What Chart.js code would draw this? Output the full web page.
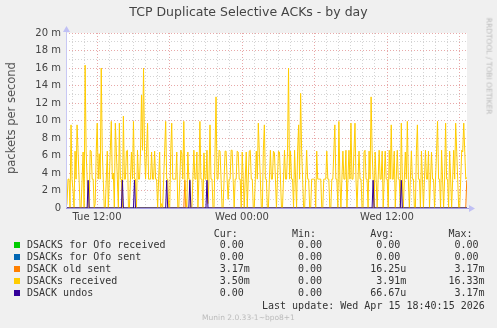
<!DOCTYPE html>
<html>
<head>
<meta charset="utf-8">
<script src="https://cdn.jsdelivr.net/npm/chart.js@4/dist/chart.umd.min.js"></script>
<style>
body{margin:0;background:#f0f0f0;}
#wrap{position:relative;width:497px;height:328px;overflow:hidden;background:#f0f0f0;}
#grafica{position:absolute;left:0;top:0;}
.txt{position:absolute;white-space:pre;font-family:"DejaVu Sans",sans-serif;}
.mono{position:absolute;white-space:pre;font-family:"DejaVu Sans Mono",monospace;font-size:10px;line-height:12px;color:#333;}
.sq{position:absolute;width:6px;height:6px;}
</style>
</head>
<body>
<div id="wrap">
<canvas id="grafica" width="497" height="328"></canvas>
<div class="txt" style="left:0;width:497px;text-align:center;top:4px;font-size:12.5px;color:#444;">TCP Duplicate Selective ACKs - by day</div>
<div class="txt" style="left:11px;top:118px;font-size:11.5px;color:#555;transform:translate(-50%,-50%) rotate(-90deg);">packets per second</div>
<div class="txt" style="left:489px;top:66px;font-size:7.5px;color:#bbb;transform:translate(-50%,-50%) rotate(90deg);">RRDTOOL / TOBI OETIKER</div>
<div id="leyenda"></div>
<div class="txt" style="left:0;width:497px;text-align:center;top:313px;font-size:7.5px;color:#bbb;">Munin 2.0.33-1~bpo8+1</div>
</div>
<script>
// one sample every 5 min starting Tue 09:21 (hours since Tue 00:00)
const startHour=9+21/60;
const stepHours=1/12;
const minHour=9+26/60;
const endHour=42.62;

const dsacksRecv=[
0,0,0.5,3.3,3.3,0,9.5,3.3,2,0,6.5,3.3,9.5,6.4,3.3,0,0,3.3,6.4,0,
16.33,6.5,3.3,0,0,6.6,6.5,3.3,3.3,0,0.5,6.4,9.7,3.3,6.2,3.3,16,6.6,3.3,0,
0,3.3,6.5,0,3.3,6.6,9.9,3.3,4,0,9.7,6.5,3.3,0,9.7,3.3,3.3,0,10.5,3.3,
3.3,6.5,6.6,0,0,3.3,6.4,3.3,9.9,3.3,3.3,0,6.6,3.3,3.3,6.4,12.9,6.6,16,6.5,
3.3,6.6,9.7,3.3,3.3,3.3,6.4,3.3,3.3,6.5,3.3,3.3,0,3.3,6.4,0,0.5,0,3.3,6.6,
9.9,3.3,3.3,0,0,6.5,9.7,3.3,3.3,3.3,3.3,6.4,0,0,3.3,6.6,6.2,3.3,9.9,3.3,
1,0,6.4,3.3,3.3,0,0,3.3,6.6,3.3,3.3,6.4,0,3.3,9.9,3.3,3.3,0,6.3,3.3,
3.3,6.6,0.5,3.3,9.5,3.3,3.3,0,0,6.4,12.7,3.3,3.3,6.6,6.5,3.3,0,0,3.3,6.5,
6.5,3.3,1,3.3,3.3,6.6,6.6,3.3,0,3.3,3.3,6.5,6.4,3.3,3.3,0,6.4,3.3,0,3.3,
6.4,0,3.3,6.5,6.6,3.3,3.3,0,0,3.3,6.5,3.3,9.7,6.4,3.3,0,0,6.6,9.5,3.3,
3.3,0,0,3.3,6.6,3.3,3.3,6.5,6.3,3.3,0,3.3,6.5,6.4,3.3,0,0,3.3,6.6,3.3,
3.3,6.5,16,3.3,6.5,3.3,3.3,0,6.6,3.3,0,6.5,9.5,3.3,13.1,6.6,3.3,0,0,3.3,
6.6,3.3,3.3,0,0,3.3,3.3,3.3,3.3,0,6.5,3.3,3.3,3.3,3.3,0,0,3.3,3.3,3.3,
6.5,3.3,3.3,0,0,3.3,3.3,6.4,9.5,3.3,3.3,0,9.9,3.3,0,3.3,6.5,3.3,3.3,6.6,
0,3.3,6.6,3.3,9.7,3.3,3.3,6.5,9.7,3.3,0,3.3,6.5,3.3,3.3,0,0,6.4,6.6,3.3,
3.3,0,6.5,3.3,12.7,6.6,3.3,0,6.4,3.3,0,3.3,6.6,3.3,3.3,6.5,0,3.3,6.5,3.3,
3.3,0,6.6,3.3,9.5,3.3,3.3,6.5,0,3.3,6.6,3.3,3.3,0,9.7,3.3,0,3.3,6.4,3.3,
9.9,3.3,0,3.3,6.5,3.3,3.3,0,0,6.6,9.5,3.3,3.3,0,6.5,3.3,0,3.3,6.6,3.3,
3.3,6.5,0,3.3,6.4,3.3,3.3,0,3.3,6.5,9.9,3.3,3.3,0,6.6,3.3,0,3.3,9.7,3.3,
3.3,0,6.5,3.3,0,3.3,6.6,3.3,9.7,6.5,3.3,0,0,3.3,6.6,6.4,9.7,6.5,3.3,3.5
];

const dsackUndos=[
0,0,0,0,0,0,0,0,0,0,0,0,0,0,0,0,0,0,0,0,
0,0,0,3.17,0,0,0,0,0,0,0,0,0,0,0,0,0,0,0,0,
0,0,0,0,0,0,0,0,0,0,0,0,0,0,0,0,0,3.17,0,0,
0,0,0,0,0,0,0,0,0,3.17,0,0,0,0,0,0,0,0,0,0,
0,0,0,0,0,0,0,0,0,0,0,0,0,0,0,0,0,0,0,0,
0,3.17,0,0,0,0,0,0,0,0,0,0,0,0,0,0,0,0,0,0,
0,0,0,0,3.17,0,0,0,0,0,0,0,0,0,0,0,0,0,0,0,
0,3.17,0,0,0,0,0,0,0,0,0,0,0,0,0,0,0,0,0,0,
0,0,0,0,0,0,0,0,0,0,0,0,0,0,0,0,0,0,0,0,
0,0,0,0,0,0,0,0,0,0,0,0,0,0,0,0,0,0,0,0,
0,0,0,0,0,0,0,0,0,0,0,0,0,0,0,0,0,0,0,0,
0,0,0,0,0,0,0,0,0,0,0,0,0,0,0,0,0,0,0,0,
0,0,0,0,0,0,0,0,0,0,0,0,0,0,0,0,0,0,0,0,
0,0,0,0,0,0,0,0,0,0,0,0,0,0,0,0,0,0,0,0,
0,0,0,0,0,0,0,0,0,0,0,0,0,0,0,0,0,0,0,0,
0,0,0,0,0,0,3.17,0,0,0,0,0,0,0,0,0,0,0,0,0,
0,0,0,0,0,0,0,0,0,0,0,0,0,0,3.17,0,0,0,0,0,
0,0,0,0,0,0,0,0,0,0,0,0,0,0,0,0,0,0,0,0,
0,0,0,0,0,0,0,0,0,0,0,0,0,0,0,0,0,0,0,0,
0,0,0,0,0,0,0,0,0,0,0,0,0,0,0,0,0,0,0,0
];

const dsackOldSent=[
0,0,0,0,0,0,0,0,0,0,0,0,0,0,0,0,0,0,0,0,
0,0,0,0,0,0,0,0,0,0,0,0,0,0,0,0,0,0,0,0,
0,0,0,0,0,0,0,0,0,0,0,0,0,0,0,0,0,0,0,0,
0,0,0,0,0,0,0,0,0,0,0,0,0,0,0,0,0,0,0,0,
0,0,0,0,0,0,0,0,0,0,0,0,0,0,0,0,0,0,0,0,
0,0,0,0,0,0,0,0,0,0,0,0,0,0,0,0,0,0,0,3.17,
0,0,0,0,0,0,0,0,0,0,0,0,0,0,0,0,0,0,0,0,
0,0,0,0,0,0,0,0,0,0,0,0,0,0,0,0,0,0,0,0,
0,0,0,0,0,0,0,0,0,0,0,0,0,0,0,0,0,0,0,0,
0,0,0,0,0,0,0,0,0,0,0,0,0,0,0,0,0,0,0,0,
0,0,0,0,0,0,0,0,0,0,0,0,0,0,0,0,0,0,0,0,
0,0,0,0,0,0,0,0,0,0,0,0,0,0,0,0,0,0,0,0,
0,0,0,0,0,0,0,0,0,0,0,0,0,0,0,0,0,0,0,0,
0,0,0,0,0,0,0,0,0,0,0,0,0,0,0,0,0,0,0,0,
0,0,0,0,0,0,0,0,0,0,0,0,0,0,0,0,0,0,0,0,
0,0,0,0,0,0,0,0,0,0,0,0,0,0,0,0,0,0,0,0,
0,0,0,0,0,0,0,0,0,0,0,0,0,0,0,0,0,0,0,0,
0,0,0,0,0,0,0,0,0,0,0,0,0,0,0,0,0,0,0,0,
0,0,0,0,0,0,0,0,0,0,0,0,0,0,0,0,0,0,0,0,
0,0,0,0,0,0,0,0,0,0,0,0,0,0,0,0,0,0,0,3.17
];

// flat at zero the whole day
const ofoReceived=[0,0];
const ofoSent=[0,0];

const xTicks=[10,11,12,13,14,15,16,17,18,19,20,21,22,23,24,25,26,27,28,29,30,31,32,33,34,35,36,37,38,39,40,41,42];
const xLabels={12:"Tue 12:00",24:"Wed 00:00",36:"Wed 12:00"};

const nombres=["DSACKS for Ofo received","DSACKs for Ofo sent","DSACK old sent","DSACKs received","DSACK undos"];
const colores=["#00cc00","#0066b3","#ff8000","#ffcc00","#330099"];
const cur=["0.00","0.00","3.17m","3.50m","0.00"];
const min=["0.00","0.00","0.00","0.00","0.00"];
const avg=["0.00","0.00","16.25u","3.91m","66.67u"];
const max=["0.00","0.00","3.17m","16.33m","3.17m"];

function serie(vals){
    return vals.map((v,i)=>({x:startHour+i*stepHours,y:v}));
}
function plana(vals){
    return [{x:minHour,y:vals[0]},{x:endHour,y:vals[1]}];
}

// LEYENDA
function celda(linea,txt,fin){
    // number ends at column fin, unit letter goes after it
    let num=txt.replace(/[a-z]$/,"");
    let ini=fin-num.length+1;
    while(linea.length<ini) linea+=" ";
    return linea+txt;
}
function leyenda(){
    let box=document.getElementById("leyenda");
    let cab=" ".repeat(31)+"Cur:"+" ".repeat(9)+"Min:"+" ".repeat(9)+"Avg:"+" ".repeat(9)+"Max:";
    let html=`<div class="mono" style="left:27px;top:228px;">${cab}</div>`;
    nombres.forEach((n,i)=>{
        let l=n;
        l=celda(l,cur[i],35);
        l=celda(l,min[i],48);
        l=celda(l,avg[i],61);
        l=celda(l,max[i],74);
        let top=239+i*12.1;
        html+=`<div class="sq" style="left:14px;top:${Math.round(top+3)}px;background:${colores[i]}"></div>`;
        html+=`<div class="mono" style="left:27px;top:${top}px;">${l}</div>`;
    });
    html+=`<div class="mono" style="left:262px;top:300px;">Last update: Wed Apr 15 18:40:15 2026</div>`;
    box.innerHTML=html;
}

// GRAFICA
const fondo={
    id:"fondo",
    beforeDraw(chart){
        const {ctx,chartArea:a}=chart;
        ctx.save();
        ctx.fillStyle="#ffffff";
        ctx.fillRect(a.left,a.top,a.right-a.left,a.bottom-a.top);
        ctx.restore();
    },
    afterDatasetsDraw(chart){
        const {ctx,chartArea:a}=chart;
        ctx.save();
        ctx.strokeStyle="#a29ae4";
        ctx.lineWidth=1;
        ctx.beginPath();
        ctx.moveTo(a.left,a.bottom+0.5);
        ctx.lineTo(a.right+2,a.bottom+0.5);
        ctx.stroke();
        ctx.strokeStyle="#c8c8f4";
        ctx.beginPath();
        ctx.moveTo(a.left+0.5,a.bottom);
        ctx.lineTo(a.left+0.5,a.top-3);
        ctx.stroke();
        // arrow heads
        ctx.fillStyle="#c0c0f4";
        ctx.beginPath();
        ctx.moveTo(a.right+2,a.bottom-3);
        ctx.lineTo(a.right+8,a.bottom+0.5);
        ctx.lineTo(a.right+2,a.bottom+4);
        ctx.fill();
        ctx.beginPath();
        ctx.moveTo(a.left-3,a.top-1);
        ctx.lineTo(a.left+0.5,a.top-7);
        ctx.lineTo(a.left+4,a.top-1);
        ctx.fill();
        ctx.restore();
    }
};

window.onload=function(){
    leyenda();
    const ctx=document.getElementById("grafica");
    const linea=(label,data,color,order)=>({
        label,data,borderColor:color,backgroundColor:color,borderWidth:1,
        pointRadius:0,tension:0,fill:false,order
    });
    new Chart(ctx,{
        type:"line",
        data:{
            datasets:[
                linea("DSACK undos",serie(dsackUndos),"#330099",1),
                linea("DSACKs received",serie(dsacksRecv),"#ffcc00",2),
                linea("DSACK old sent",serie(dsackOldSent),"#ff8000",3),
                linea("DSACKs for Ofo sent",plana(ofoSent),"#0066b3",4),
                linea("DSACKS for Ofo received",plana(ofoReceived),"#00cc00",5)
            ]
        },
        options:{
            responsive:false,
            animation:false,
            events:[],
            layout:{padding:{left:0,right:30,top:33,bottom:100}},
            plugins:{legend:{display:false},tooltip:{enabled:false},title:{display:false}},
            scales:{
                x:{
                    type:"linear",
                    min:minHour,
                    max:endHour,
                    afterFit(s){s.height=20;},
                    afterBuildTicks(s){s.ticks=xTicks.map(v=>({value:v}));},
                    grid:{
                        drawTicks:false,
                        color:c=>c.tick&&c.tick.value%6===0?"#e8a8a8":"#d4d4d4"
                    },
                    border:{display:false,dash:[1,2]},
                    ticks:{
                        autoSkip:false,maxRotation:0,padding:3,color:"#444",
                        font:{family:"DejaVu Sans",size:10},
                        callback:v=>xLabels[v]||""
                    }
                },
                y:{
                    min:0,
                    max:20,
                    afterFit(s){s.width=66;},
                    grid:{
                        drawTicks:false,
                        color:c=>c.tick&&c.tick.value%2===0?"#e8a8a8":"#d4d4d4"
                    },
                    border:{display:false,dash:[1,2]},
                    ticks:{
                        stepSize:1,autoSkip:false,padding:5,color:"#444",
                        font:{family:"DejaVu Sans",size:10},
                        callback:v=>v%2!==0?"":(v===0?"0":v+" m")
                    }
                }
            }
        },
        plugins:[fondo]
    });
};
</script>
</body>
</html>
